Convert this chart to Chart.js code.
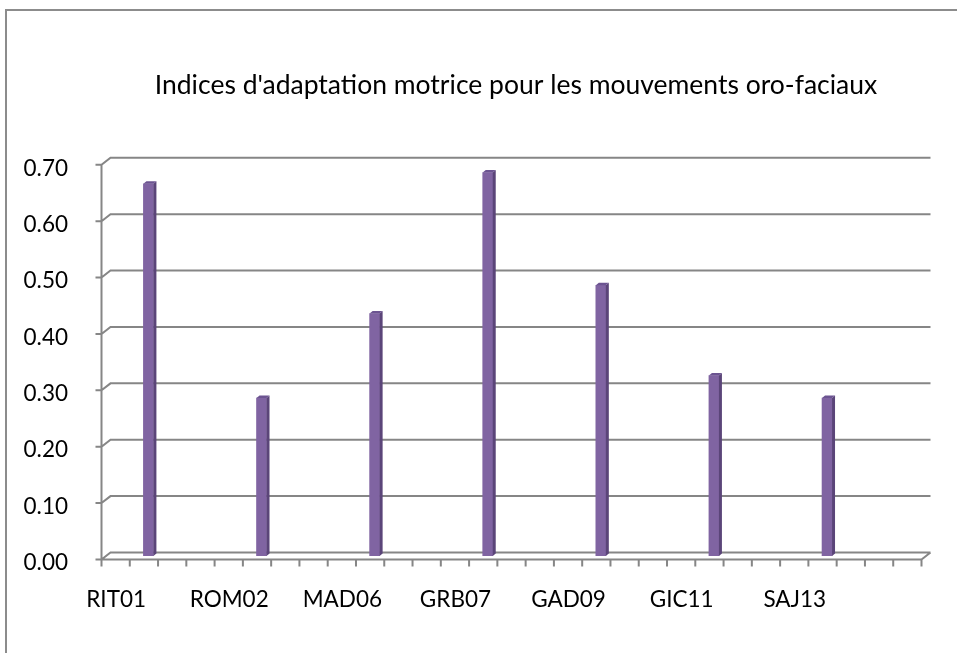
<!DOCTYPE html>
<html lang="fr">
<head>
  <meta charset="UTF-8">
  <title>Indices d'adaptation motrice</title>
  <script src="https://cdn.jsdelivr.net/npm/chart.js"></script>
  <style>
    body {
      margin: 0;
      background: #ffffff;
    }

    #frame {
      position: absolute;
      left: 5px;
      top: 9px;
      width: 970px;
      height: 670px;
      border-left: 2px solid #8c8c8c;
      border-top: 2px solid #8c8c8c;
    }

    #indexChart {
      position: absolute;
      left: 0;
      top: 0;
    }
  </style>
</head>
<body>

  <div id="frame"></div>
  <canvas id="indexChart" width="957" height="653"></canvas>

  <script>
    // one subject every 4 slots on the category axis, value sits one slot after its label
    const subjects = ['RIT01', 'ROM02', 'MAD06', 'GRB07', 'GAD09', 'GIC11', 'SAJ13'];
    const indices = [0.66, 0.28, 0.43, 0.68, 0.48, 0.32, 0.28];
    const slotCount = 29;
    const slotsPerSubject = 4;

    const yMax = 0.7;
    const yStep = 0.1;

    const labels = [];
    const values = [];
    for (let i = 0; i < slotCount; i++) {
      labels.push('');
      values.push(null);
    }
    subjects.forEach((s, k) => {
      labels[k * slotsPerSubject] = s;
      values[k * slotsPerSubject + 1] = indices[k];
    });

    // depth offset between the bar plane and the back wall / front edge
    const DX = 4.5;
    const DY = 3.5;
    const lineGrey = '#868686';

    const wall = {
      id: 'wall',
      beforeDatasetsDraw(chart) {
        const { ctx, chartArea: a, scales: { x, y } } = chart;
        ctx.save();
        ctx.strokeStyle = lineGrey;
        ctx.lineWidth = 2;
        ctx.beginPath();
        y.ticks.forEach(t => {
          const py = y.getPixelForValue(t.value);
          ctx.moveTo(a.left - DX - 6, py + DY);
          ctx.lineTo(a.left - DX, py + DY);
          ctx.lineTo(a.left + DX, py - DY);
          ctx.lineTo(a.right + DX, py - DY);
        });
        // front vertical axis + floor edge
        ctx.moveTo(a.left - DX, a.top + DY);
        ctx.lineTo(a.left - DX, a.bottom + DY);
        ctx.lineTo(a.right - DX, a.bottom + DY);
        ctx.lineTo(a.right + DX, a.bottom - DY);
        // category tick marks
        const n = x.ticks.length;
        const step = (a.right - a.left) / n;
        for (let i = 0; i <= n; i++) {
          const px = a.left - DX + i * step;
          ctx.moveTo(px, a.bottom + DY);
          ctx.lineTo(px, a.bottom + DY + 7);
        }
        ctx.stroke();
        ctx.restore();
      }
    };

    // side face and top cap of each column
    const prism = {
      id: 'prism',
      afterDatasetsDraw(chart) {
        const ctx = chart.ctx;
        const data = chart.data.datasets[0].data;
        ctx.save();
        chart.getDatasetMeta(0).data.forEach((bar, i) => {
          if (data[i] === null) return;
          const { x, y, base, width } = bar.getProps(['x', 'y', 'base', 'width'], true);
          const l = x - width / 2;
          const r = x + width / 2;
          ctx.fillStyle = '#5b4579';
          ctx.beginPath();
          ctx.moveTo(r, y);
          ctx.lineTo(r + 3, y - 2.5);
          ctx.lineTo(r + 3, base - 2.5);
          ctx.lineTo(r, base);
          ctx.closePath();
          ctx.fill();
          ctx.fillStyle = '#6c5491';
          ctx.beginPath();
          ctx.moveTo(l, y);
          ctx.lineTo(l + 3, y - 2.5);
          ctx.lineTo(r + 3, y - 2.5);
          ctx.lineTo(r, y);
          ctx.closePath();
          ctx.fill();
        });
        ctx.restore();
      }
    };

    Chart.defaults.font.family = "Lato, 'Open Sans', sans-serif";
    Chart.defaults.color = '#000000';

    const ctx = document.getElementById('indexChart').getContext('2d');
    new Chart(ctx, {
      type: 'bar',
      data: {
        labels: labels,
        datasets: [{
          data: values,
          backgroundColor: '#8064a2',
          barThickness: 10
        }]
      },
      options: {
        responsive: false,
        animation: false,
        layout: {
          padding: { left: 0, right: 31, top: 0, bottom: 0 }
        },
        plugins: {
          legend: { display: false },
          tooltip: { enabled: false },
          title: {
            display: true,
            fullSize: false,
            text: "Indices d'adaptation motrice pour les mouvements oro-faciaux",
            font: { size: 26.5, weight: 'normal' },
            padding: { top: 70, bottom: 59.5 }
          }
        },
        scales: {
          x: {
            grid: { display: false },
            border: { display: false },
            ticks: {
              autoSkip: false,
              maxRotation: 0,
              font: { size: 22.5 },
              padding: 22,
              labelOffset: -4
            },
            afterFit: s => { s.height = 97; }
          },
          y: {
            min: 0,
            max: yMax,
            grid: { display: false },
            border: { display: false },
            ticks: {
              stepSize: yStep,
              font: { size: 22.5 },
              padding: 30,
              labelOffset: 7,
              callback: v => v.toFixed(2)
            },
            afterFit: s => { s.width = 106; }
          }
        }
      },
      plugins: [wall, prism]
    });
  </script>

</body>
</html>
